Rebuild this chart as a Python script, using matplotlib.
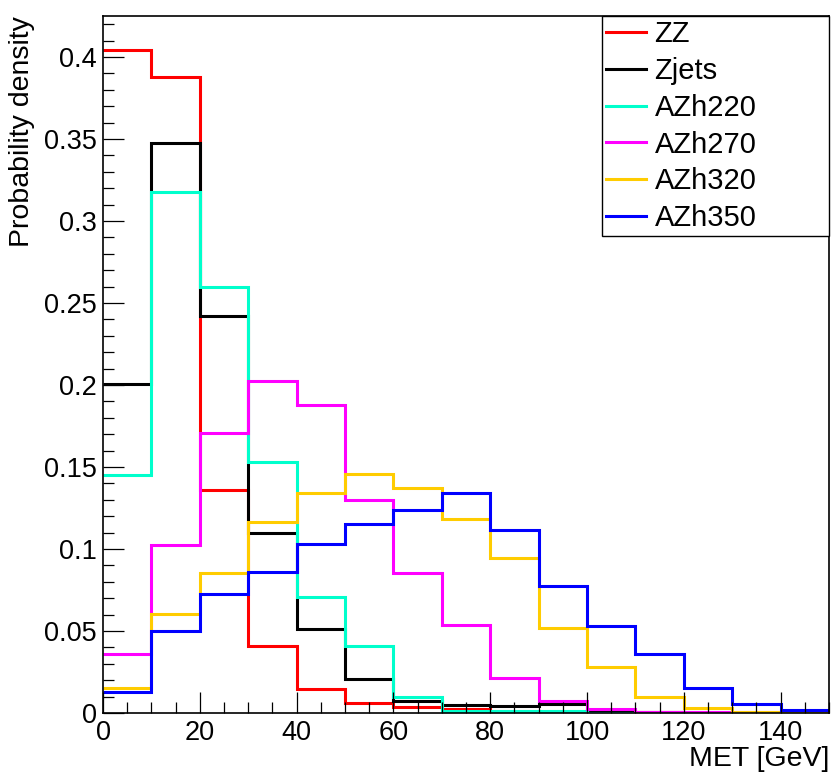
import numpy as np
import matplotlib
matplotlib.use("Agg")
import matplotlib.pyplot as plt
from matplotlib.ticker import MultipleLocator, FuncFormatter

plt.rcParams['font.family'] = ['Liberation Sans', 'DejaVu Sans']

# MET histogram, 10 GeV bins from 0 to 150
bin_edges = np.arange(0, 160, 10)

zz = [0.404, 0.388, 0.136, 0.041, 0.0146, 0.0061, 0.0037, 0.0022, 0.001, 0.0008,
      0.0004, 0.0003, 0.0002, 0.0001, 0.0001]
zjets = [0.2006, 0.3476, 0.242, 0.110, 0.051, 0.021, 0.0073, 0.0049, 0.004, 0.0055,
         0.0008, 0.0004, 0.0002, 0.0001, 0.0001]
azh220 = [0.145, 0.3177, 0.260, 0.153, 0.0707, 0.041, 0.0098, 0.0013, 0.0012, 0.0012,
          0.0002, 0.0001, 0.0, 0.0, 0.0]
azh270 = [0.036, 0.1024, 0.171, 0.2024, 0.188, 0.130, 0.0854, 0.0537, 0.0213, 0.0073,
          0.0024, 0.0008, 0.0008, 0.0005, 0.0002]
azh320 = [0.0152, 0.0603, 0.0855, 0.1165, 0.134, 0.1457, 0.137, 0.118, 0.0945, 0.0518,
          0.028, 0.0098, 0.003, 0.0008, 0.0003]
azh350 = [0.0128, 0.050, 0.0726, 0.086, 0.103, 0.1152, 0.124, 0.134, 0.1116, 0.0774,
          0.053, 0.036, 0.0152, 0.0055, 0.0018]

samples = ["ZZ", "Zjets", "AZh220", "AZh270", "AZh320", "AZh350"]
series = [zz, zjets, azh220, azh270, azh320, azh350]
colors = ["#ff0000", "#000000", "#00ffcc", "#ff00ff", "#ffcc00", "#0000ff"]

fig = plt.figure(figsize=(8.32, 7.76), dpi=100)
ax = fig.add_axes([0.1238, 0.0812, 0.8726, 0.8982])

for name, vals, c in zip(samples, series, colors):
    ax.stairs(vals, bin_edges, baseline=None, color=c, lw=2.2, label=name)

ax.set_xlim(0, 150)
ax.set_ylim(0, 0.425)

ax.xaxis.set_major_locator(MultipleLocator(20))
ax.xaxis.set_minor_locator(MultipleLocator(5))
ax.yaxis.set_major_locator(MultipleLocator(0.05))
ax.yaxis.set_minor_locator(MultipleLocator(0.01))
ax.yaxis.set_major_formatter(FuncFormatter(lambda v, p: "%g" % round(v, 3)))

ax.tick_params(which="both", direction="in", top=False, right=False, width=0.9)
ax.tick_params(which="major", length=15, labelsize=19.5)
ax.tick_params(axis="x", which="major", pad=5)
ax.tick_params(axis="y", which="major", pad=4.3)
ax.tick_params(which="minor", length=7.9)
for s in ax.spines.values():
    s.set_linewidth(1.2)

ax.set_xlabel("MET [GeV]", fontsize=20.5, loc="right")
ax.xaxis.set_label_coords(1.0, -0.047)
ax.set_ylabel("Probability density", fontsize=20.5, loc="top")
ax.yaxis.set_label_coords(-0.094, 1.0)

leg = ax.legend(loc="upper left", bbox_to_anchor=(0.687, 0.687, 0.313, 0.313),
                mode="expand", borderaxespad=0, fontsize=21, fancybox=False,
                framealpha=1, edgecolor="black", handlelength=1.38,
                handletextpad=0.28, labelspacing=0.3, borderpad=0.15)
leg.get_frame().set_linewidth(1.0)

fig.savefig("out.png", dpi=100)
